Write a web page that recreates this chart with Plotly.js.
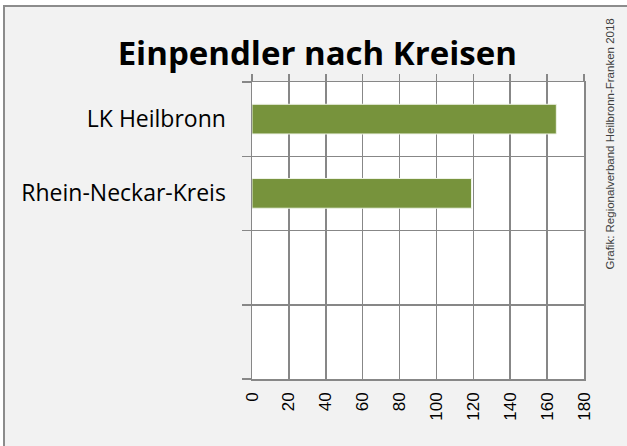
<!DOCTYPE html>
<html>
<head>
<meta charset="utf-8">
<script src="https://cdn.plot.ly/plotly-3.0.1.min.js"></script>
<style>
  html, body { margin: 0; padding: 0; background: #ffffff; width: 627px; height: 446px; overflow: hidden; }
  #frame { position: absolute; left: 3px; top: 5px; width: 700px; height: 600px;
           background: #f2f2f2; border-left: 2px solid #8c8c8c; border-top: 2px solid #8c8c8c; }
  #chart { position: absolute; left: 0; top: 0; width: 627px; height: 446px; }
</style>
</head>
<body>
<div id="frame"></div>
<div id="chart"></div>
<script>
// ---- data ----
const categories = ["LK Heilbronn", "Rhein-Neckar-Kreis"];
const values = [165, 119];
const slotCount = 4;               // category slots on the axis (two are empty)
const xTickValues = [0, 20, 40, 60, 80, 100, 120, 140, 160, 180];
const titleText = "Einpendler nach Kreisen";
const sourceText = "Grafik: Regionalverband Heilbronn-Franken 2018";

const gridColor = "#878787";
const idx = categories.map((c, i) => i);

const traces = [
  {
    type: "bar",
    orientation: "h",
    x: values,
    y: idx,
    width: 0.4,
    marker: { color: "#77933C", line: { color: "#eef3e6", width: 1 } },
    hoverinfo: "skip",
    showlegend: false
  },
  {
    type: "bar",
    orientation: "h",
    x: values,
    y: idx,
    xaxis: "x2",
    yaxis: "y",
    width: 0.4,
    marker: { color: "rgba(0,0,0,0)" },
    hoverinfo: "skip",
    showlegend: false
  }
];

const layout = {
  width: 627,
  height: 446,
  margin: { l: 252, r: 43, t: 82, b: 67 },
  paper_bgcolor: "rgba(0,0,0,0)",
  plot_bgcolor: "#ffffff",
  showlegend: false,
  title: {
    text: "<b>" + titleText + "</b>",
    font: { family: "Open Sans", size: 33, color: "#000000" },
    xref: "container", yref: "container",
    x: 0.506, xanchor: "center",
    y: 1 - 53 / 446, yanchor: "middle"
  },
  xaxis: {
    range: [0, 180],
    tickmode: "array",
    tickvals: xTickValues,
    ticktext: xTickValues.map(String),
    tickangle: -90,
    ticks: "",
    ticklabelstandoff: 5,
    tickfont: { family: "Liberation Sans", size: 17, color: "#000000" },
    showgrid: true,
    gridcolor: gridColor,
    gridwidth: 1.5,
    zeroline: false,
    showline: true,
    linecolor: gridColor,
    linewidth: 1.5,
    mirror: true,
    fixedrange: true
  },
  // overlay axis at the top, only for the short outside tick marks
  xaxis2: {
    overlaying: "x",
    side: "top",
    anchor: "y",
    range: [0, 180],
    tickmode: "array",
    tickvals: xTickValues,
    ticks: "outside",
    ticklen: 7,
    tickwidth: 1.5,
    tickcolor: gridColor,
    showticklabels: false,
    showgrid: false,
    zeroline: false,
    showline: false,
    fixedrange: true
  },
  yaxis: {
    range: [slotCount - 0.5, -0.5],
    tickmode: "array",
    tickvals: idx,
    ticktext: categories,
    ticks: "",
    ticklabelstandoff: 20,
    tickfont: { family: "Open Sans", size: 23, color: "#000000" },
    showgrid: false,
    minor: {
      tick0: -0.5,
      dtick: 1,
      ticks: "outside",
      ticklen: 9,
      tickwidth: 1.5,
      tickcolor: gridColor,
      showgrid: true,
      gridcolor: gridColor,
      gridwidth: 1.5
    },
    zeroline: false,
    showline: true,
    linecolor: gridColor,
    linewidth: 1.5,
    mirror: true,
    fixedrange: true
  },
  annotations: [
    {
      text: sourceText,
      xref: "paper", yref: "paper",
      x: (609 - 252) / 332, y: (379 - 144.5) / 297,
      xanchor: "center", yanchor: "middle",
      textangle: -90,
      showarrow: false,
      font: { family: "Liberation Sans", size: 11.5, color: "#404040" }
    }
  ]
};

Plotly.newPlot("chart", traces, layout, { displayModeBar: false, staticPlot: true });
</script>
</body>
</html>
